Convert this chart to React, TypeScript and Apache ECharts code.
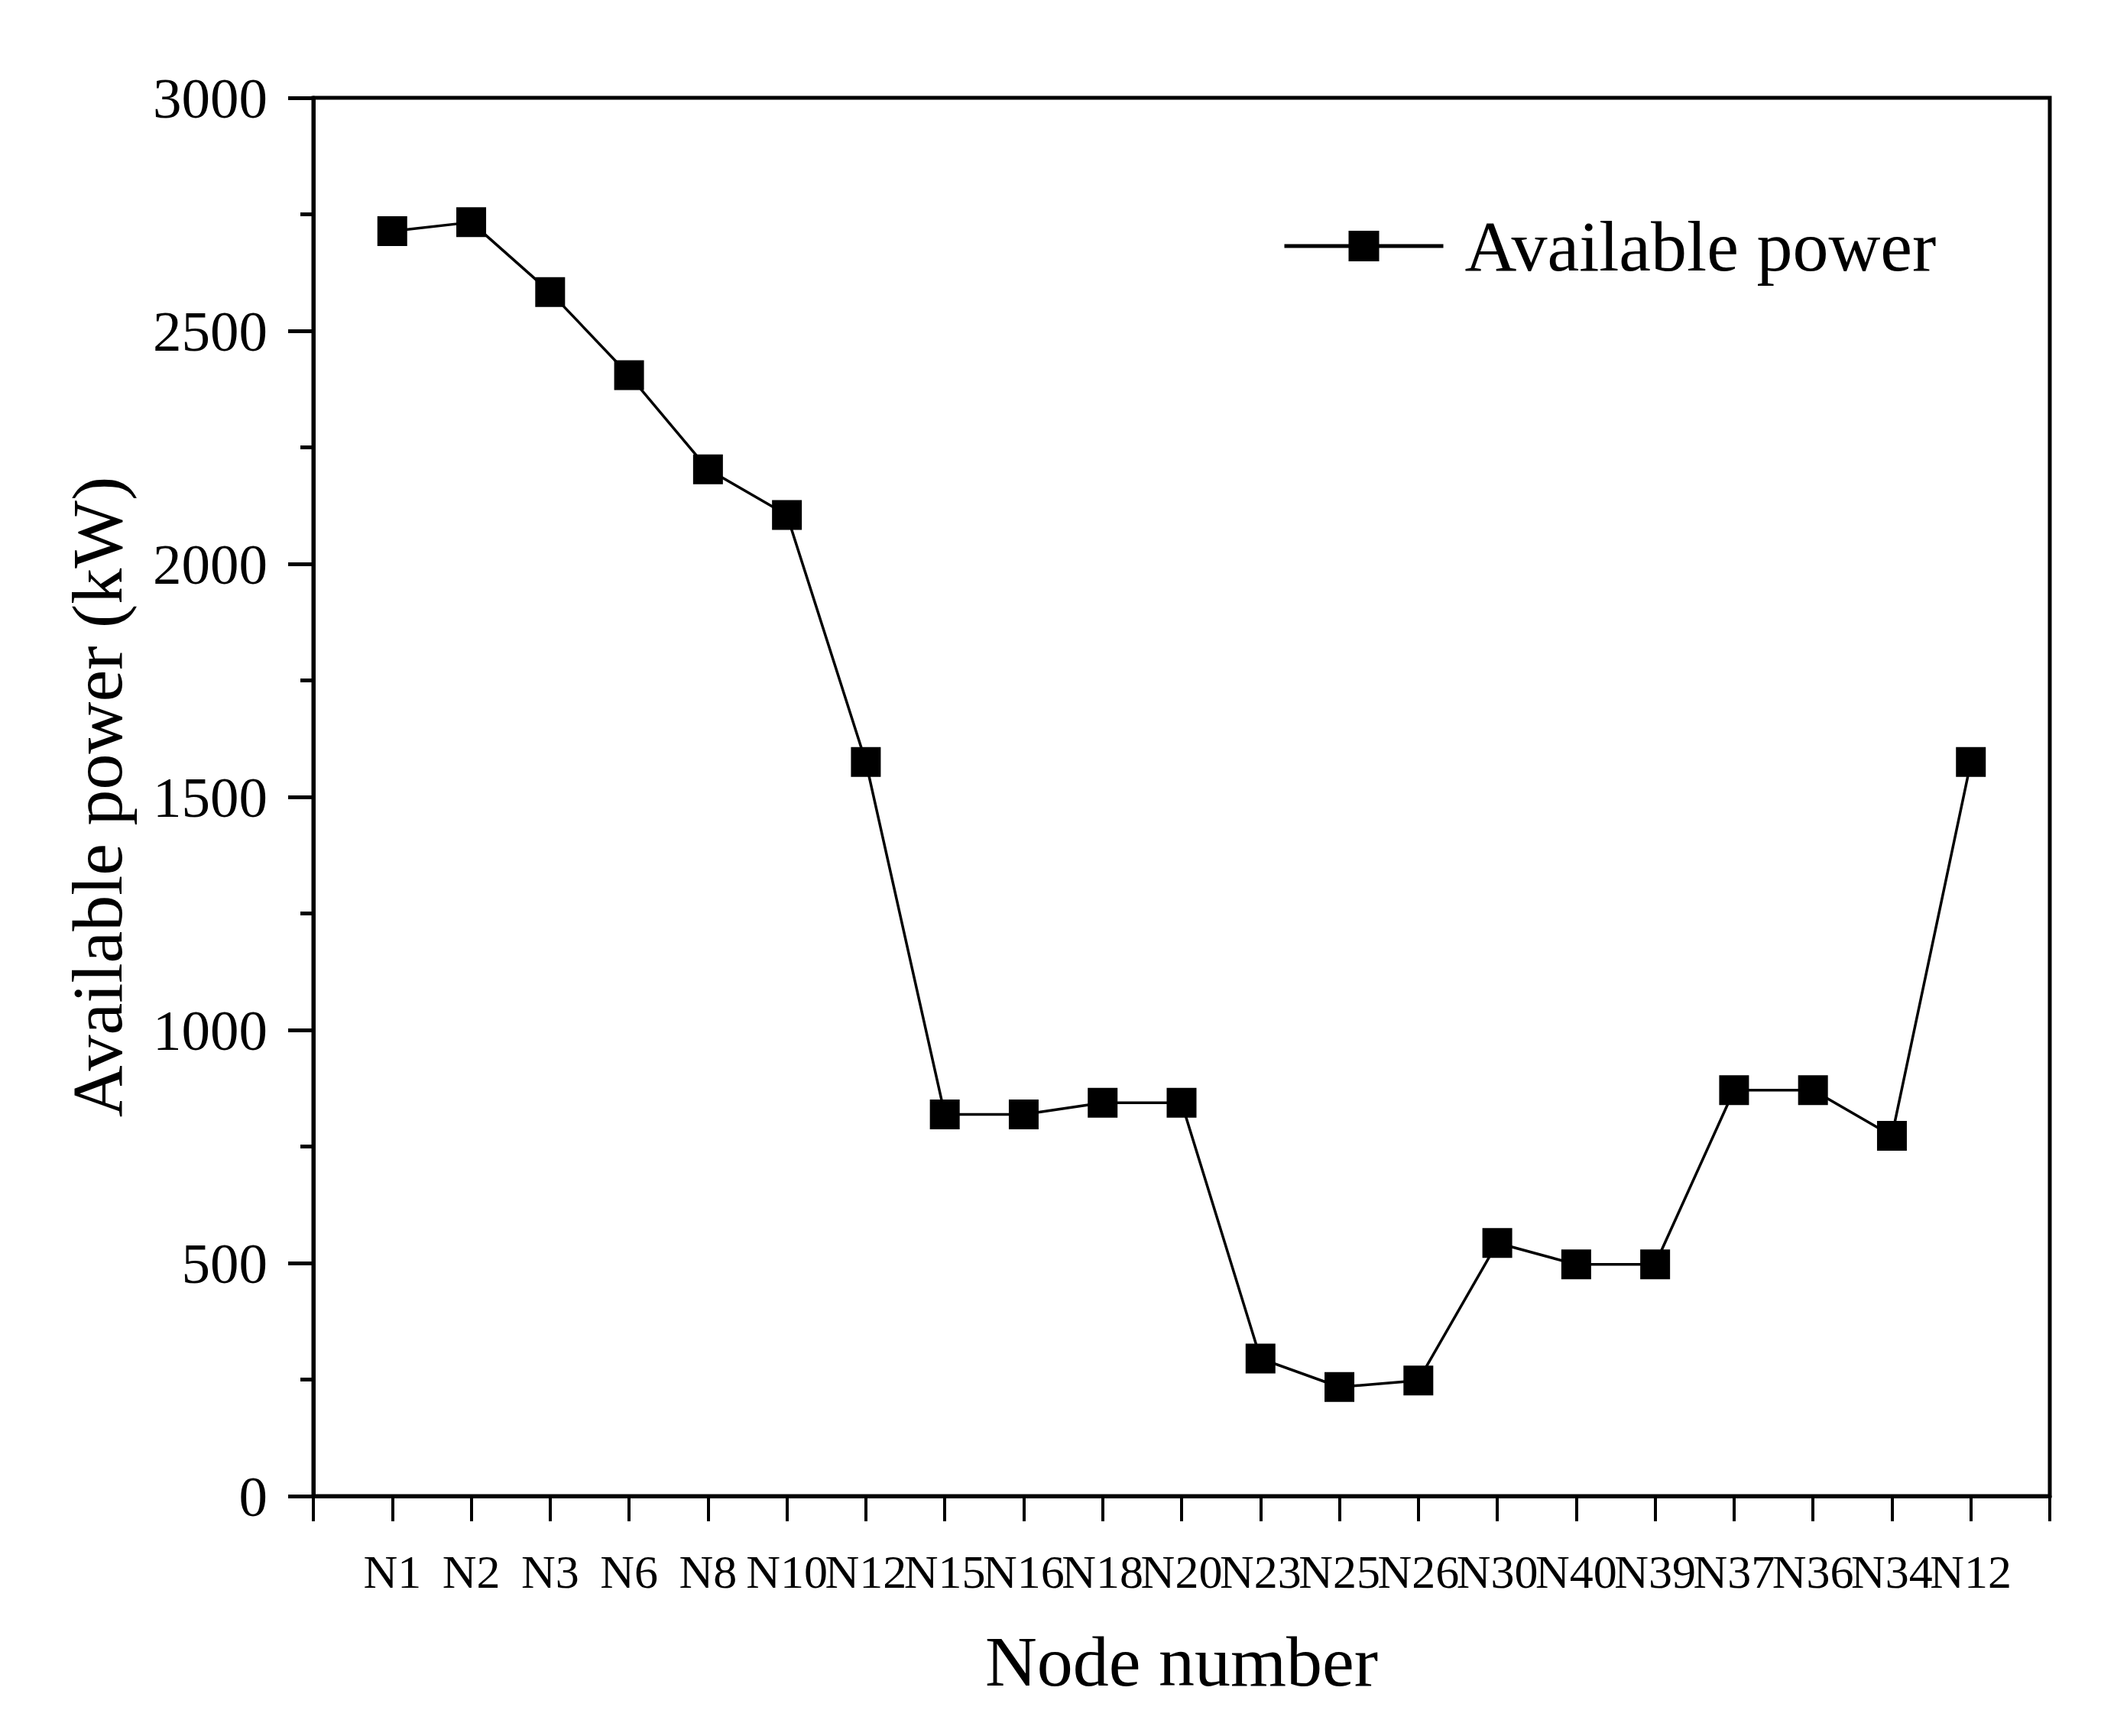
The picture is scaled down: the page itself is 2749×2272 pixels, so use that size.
import React, { useEffect, useRef } from "react";
import * as echarts from "echarts";

const nodes = ["N1", "N2", "N3", "N6", "N8", "N10", "N12", "N15", "N16", "N18", "N20", "N23", "N25", "N26", "N30", "N40", "N39", "N37", "N36", "N34", "N12"];
const power = [2714, 2733, 2583, 2405, 2203, 2105, 1575, 819, 819, 844, 844, 295, 234, 248, 543, 497, 497, 871, 871, 773, 1575];
const seriesName = "Available power";
const yTitle = "Available power (kW)";
const xTitle = "Node number";

export default function App() {
  const ref = useRef<HTMLDivElement>(null);
  useEffect(() => {
    const chart = echarts.init(ref.current!, null, { renderer: "svg" });
    const font = "'Liberation Serif', 'Times New Roman', serif";
    chart.setOption({
      animation: false,
      backgroundColor: "#fff",
      grid: {
        left: 410,
        right: 67,
        top: 128,
        bottom: 314,
        show: true,
        borderColor: "#000",
        borderWidth: 5,
        backgroundColor: "transparent",
      },
      legend: {
        left: 1673,
        top: 270,
        itemWidth: 208,
        itemHeight: 50,
        data: [seriesName],
        lineStyle: { width: 5, color: "#000" },
        textStyle: { fontFamily: font, fontSize: 94, color: "#000", padding: [0, 0, 0, 23] },
      },
      xAxis: {
        type: "value",
        min: 0,
        max: nodes.length + 1,
        interval: 1,
        name: xTitle,
        nameLocation: "middle",
        nameGap: 169,
        nameTextStyle: { fontFamily: font, fontSize: 94, color: "#000" },
        axisLine: { lineStyle: { color: "#000", width: 5 } },
        axisTick: { show: true, inside: false, length: 33, lineStyle: { color: "#000", width: 4 } },
        axisLabel: {
          formatter: (v: number) => nodes[v - 1] ?? "",
          fontFamily: font,
          fontSize: 62,
          color: "#000",
          margin: 68,
        },
        splitLine: { show: false },
      },
      yAxis: {
        type: "value",
        min: 0,
        max: 3000,
        interval: 500,
        name: yTitle,
        nameLocation: "middle",
        nameGap: 236,
        nameTextStyle: { fontFamily: font, fontSize: 94, color: "#000" },
        axisLine: { show: true, lineStyle: { color: "#000", width: 5 } },
        axisTick: { show: true, inside: false, length: 33, lineStyle: { color: "#000", width: 5 } },
        minorTick: { show: true, splitNumber: 2, length: 17, lineStyle: { color: "#000", width: 5 } },
        axisLabel: {
          formatter: (v: number) => String(v),
          fontFamily: font,
          fontSize: 75,
          color: "#000",
          margin: 60,
        },
        splitLine: { show: false },
      },
      series: [
        {
          name: seriesName,
          type: "line",
          data: power.map((v, i) => [i + 1, v]),
          symbol: "rect",
          symbolSize: 39,
          itemStyle: { color: "#000" },
          lineStyle: { color: "#000", width: 3.5 },
        },
      ],
    });
    return () => chart.dispose();
  }, []);
  return (
    <div
      ref={ref}
      style={{ position: "absolute", left: 0, top: 0, width: 2749, height: 2272 }}
    />
  );
}
